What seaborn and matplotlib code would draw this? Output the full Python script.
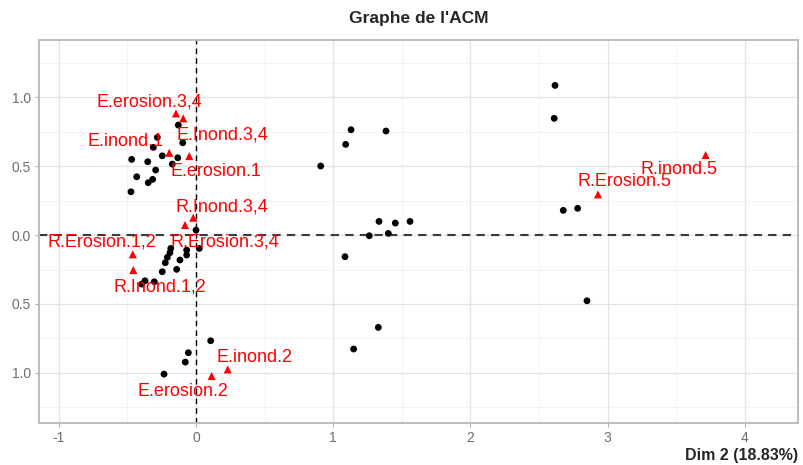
import numpy as np
import matplotlib
matplotlib.use("Agg")
import matplotlib.pyplot as plt
from matplotlib.ticker import MultipleLocator, FixedLocator
import seaborn as sns

# individuals (black dots), Dim 2 / Dim 3 coordinates
ind_x = [-0.469, -0.432, -0.352, -0.282, -0.311, -0.246, -0.294, -0.316, -0.348, -0.474,
         -0.133, -0.173, -0.129, -0.097, 0.000, 0.024, -0.068, -0.068, -0.184, -0.190,
         -0.209, -0.224, -0.117, -0.141, -0.246, -0.304, -0.372, -0.396, 0.107, -0.056,
         -0.078, -0.233, 0.909, 1.091, 1.130, 1.385, 1.334, 1.453, 1.560, 1.263,
         1.402, 1.086, 1.329, 1.149, 2.617, 2.611, 2.677, 2.782, 2.850]
ind_y = [0.549, 0.423, 0.532, 0.709, 0.636, 0.575, 0.472, 0.404, 0.380, 0.314,
         0.561, 0.515, 0.798, 0.670, 0.036, -0.097, -0.109, -0.145, -0.097, -0.128,
         -0.162, -0.201, -0.181, -0.249, -0.266, -0.339, -0.332, -0.356, -0.767, -0.854,
         -0.922, -1.009, 0.501, 0.658, 0.764, 0.755, 0.099, 0.087, 0.099, -0.005,
         0.012, -0.157, -0.670, -0.827, 1.086, 0.847, 0.179, 0.194, -0.477]

# categories (red triangles)
cat_names = ["E.erosion.3,4", "E.Inond.3,4", "E.inond.1", "E.erosion.1",
             "R.Inond.3,4", "R.Erosion.3,4", "R.Erosion.1,2", "R.Inond.1,2",
             "E.erosion.2", "E.inond.2", "R.Erosion.5", "R.inond.5"]
cat_x = [-0.146, -0.093, -0.195, -0.049, -0.020, -0.080, -0.461, -0.457,
         0.114, 0.231, 2.930, 3.715]
cat_y = [0.883, 0.847, 0.597, 0.573, 0.126, 0.073, -0.140, -0.254,
         -1.023, -0.975, 0.295, 0.581]
# where the (repelled) labels sit
lab_x = [-0.343, 0.193, -0.515, 0.144, 0.187, 0.211, -0.687, -0.262,
         -0.093, 0.430, 3.125, 3.519]
lab_y = [0.967, 0.726, 0.682, 0.459, 0.201, -0.053, -0.053, -0.375,
         -1.137, -0.888, 0.387, 0.479]

x_ticks = [-1, 0, 1, 2, 3, 4]
x_ticklabels = ["-1", "0", "1", "2", "3", "4"]
y_ticks = [-1.0, -0.5, 0.0, 0.5, 1.0]
y_ticklabels = ["1.0", "0.5", "0.0", "0.5", "1.0"]

sns.set_theme(style="whitegrid")
plt.rcParams['font.family'] = ['Liberation Sans', 'DejaVu Sans']

fig = plt.figure(figsize=(8.04, 4.65), dpi=100)
ax = fig.add_axes([0.0491, 0.0903, 0.9434, 0.8247])

ax.set_xlim(-1.141, 4.388)
ax.set_ylim(-1.364, 1.419)

# grid
ax.xaxis.set_major_locator(FixedLocator(x_ticks))
ax.yaxis.set_major_locator(FixedLocator(y_ticks))
ax.xaxis.set_minor_locator(MultipleLocator(0.5))
ax.yaxis.set_minor_locator(MultipleLocator(0.25))
ax.grid(which='major', color='#e3e3e3', linewidth=0.9)
ax.grid(which='minor', color='#f0f0f0', linewidth=0.6)
ax.set_axisbelow(True)

ax.axhline(0, color='#3a3a3a', linestyle=(0, (4, 3)), linewidth=1.5, zorder=1)
ax.axvline(0, color='black', linestyle=(0, (4, 3)), linewidth=1.0, zorder=1)

sns.scatterplot(x=ind_x, y=ind_y, ax=ax, color='black', s=24, edgecolor='none', zorder=3)
sns.scatterplot(x=cat_x, y=cat_y, ax=ax, color='#ff0000', marker='^', s=34, edgecolor='none', zorder=3)

for name, lx, ly in zip(cat_names, lab_x, lab_y):
    ax.text(lx, ly, name, color='#ff0000', fontsize=13, ha='center', va='center', zorder=4)

ax.set_xticklabels(x_ticklabels)
ax.set_yticklabels(y_ticklabels)
ax.tick_params(axis='both', which='major', length=3, width=0.8, color='#b3b3b3',
               labelsize=10, labelcolor='#6e6e6e', pad=3)
ax.tick_params(which='minor', length=0)
ax.tick_params(axis='x', bottom=True)
ax.tick_params(axis='y', left=True)

for sp in ax.spines.values():
    sp.set_visible(True)
    sp.set_color('#bdbdbd')
    sp.set_linewidth(1.4)

ax.set_xlabel("")
ax.set_ylabel("")
fig.text(0.521, 0.961, "Graphe de l'ACM", fontsize=12.5, fontweight='bold', ha='center', va='center')
fig.text(0.9925, 0.021, "Dim 2 (18.83%)", fontsize=11.5, fontweight='bold', ha='right', va='center')

plt.savefig("out.png", dpi=100)
